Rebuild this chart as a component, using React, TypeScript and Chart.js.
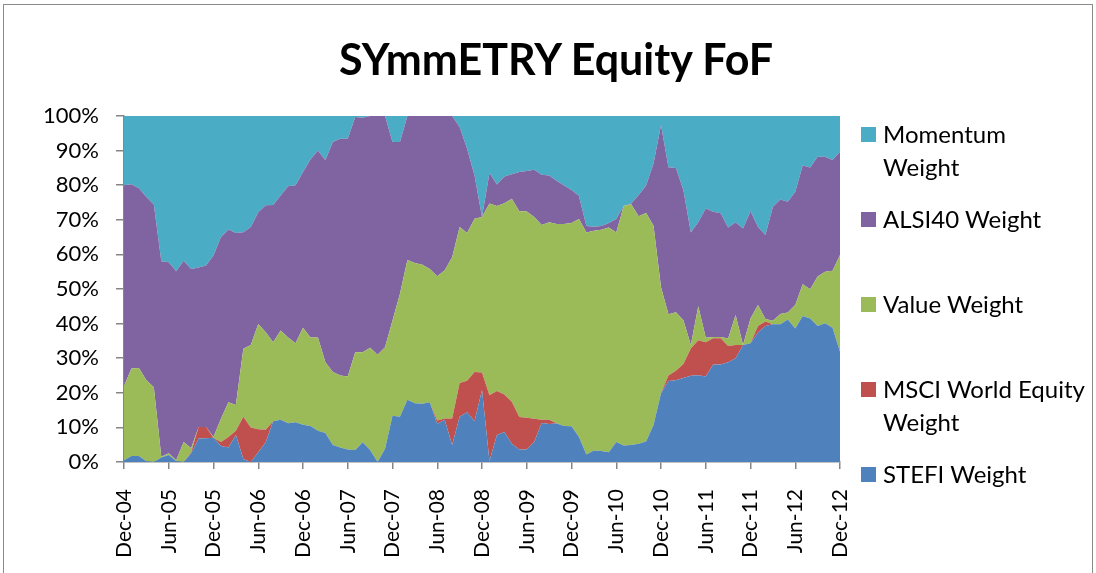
import React, { useEffect, useRef } from "react";
import { Chart, registerables } from "chart.js";

Chart.register(...registerables);

const monthNames = ["Jan", "Feb", "Mar", "Apr", "May", "Jun", "Jul", "Aug", "Sep", "Oct", "Nov", "Dec"];
// Monthly categories Dec-04 .. Dec-12
const categories: string[] = [];
for (let k = 0; k < 97; k++) {
  const m = (11 + k) % 12;
  const y = 4 + Math.floor((11 + k) / 12);
  categories.push(monthNames[m] + "-" + String(y).padStart(2, "0"));
}

const yTicks = [0, 10, 20, 30, 40, 50, 60, 70, 80, 90, 100];

const stefi = [0.5, 1.7, 1.7, 0.2, 0, 1.3, 2, 0.3, 0, 2.5,
  6.8, 6.9, 7, 4.6, 4.2, 7.8, 0.9, 0, 2.8, 5.7,
  11.8, 12.2, 11.2, 11.5, 10.8, 10.4, 9, 8.4, 4.9, 4.2,
  3.6, 3.5, 5.7, 3.5, 0, 3.8, 13.4, 13.1, 18, 17,
  16.8, 17.3, 11, 12.2, 4.9, 13.1, 14.4, 11.8, 20.8, 0.3,
  7.8, 8.7, 5.3, 3.6, 3.6, 5.8, 11.3, 11, 11.1, 10.4,
  10.3, 7.2, 2.2, 3.3, 3.2, 2.8, 5.8, 4.8, 4.9, 5.3,
  5.9, 10.7, 19.9, 23.4, 23.6, 24.3, 24.9, 25.1, 24.7, 28.2,
  28.2, 28.8, 30, 33.8, 34.3, 37.4, 39.3, 39.8, 39.8, 41.2,
  38.6, 42.2, 41.5, 39.3, 40.1, 38.8, 31.9];

const msci = [0, 0, 0, 0, 0, 0, 0, 0, 0, 0.3,
  3.3, 3.2, 0, 1.2, 3, 1.2, 12.2, 10, 6.7, 3.6,
  0, 0, 0, 0, 0, 0, 0, 0, 0, 0,
  0, 0, 0, 0, 0, 0, 0, 0, 0, 0,
  0, 0, 1, 0.4, 7.7, 9.7, 9.1, 14.2, 5.1, 19,
  12.7, 10.8, 12.1, 9.4, 9.2, 6.7, 0.9, 1.2, 0.1, 0,
  0, 0, 0, 0, 0, 0, 0, 0, 0, 0,
  0, 0, 0, 1.6, 2.8, 4, 7.9, 10.1, 9.9, 7.6,
  7.6, 4.7, 3.8, 0, 0, 1.9, 1.3, 0, 0, 0,
  0, 0, 0, 0, 0, 0, 0];

const valueW = [21.5, 25.3, 25.5, 23.4, 21.6, 0.2, 0.5, 0.2, 5.8, 1.2,
  0, 0, 0.2, 6.7, 10.1, 7.5, 19.6, 23.8, 30.4, 28.2,
  22.8, 25.8, 24.8, 22.8, 28, 25.6, 27, 20.4, 21.1, 20.8,
  21.1, 28.2, 26, 29.5, 31, 29.4, 27.5, 35.5, 40.4, 40.5,
  40.2, 38.5, 41.7, 42.8, 46.6, 45.1, 42.7, 44.3, 44.9, 55.4,
  53.5, 55.3, 58.7, 59.5, 59.6, 58.3, 56.3, 57.1, 57.6, 58.4,
  58.8, 63, 64.1, 63.5, 63.9, 65, 60.5, 69.2, 69.6, 65.7,
  66.1, 57.6, 30.6, 17.7, 16.9, 12.7, 1, 9.8, 1.3, 0.3,
  0.3, 2.2, 8.7, 0, 7.2, 6.1, 0.7, 1, 3, 2,
  6.8, 9.2, 8.4, 14.3, 14.9, 16.5, 27.9];

const alsi40 = [58, 53.3, 51.9, 53, 52.8, 56.5, 55.2, 54.6, 52.4, 51.8,
  46.1, 46.7, 52.5, 52.5, 49.9, 49.7, 33.7, 34.1, 32.3, 36.7,
  39.7, 39, 43.7, 45.7, 45, 51.4, 54, 58.4, 66.5, 68.4,
  68.7, 68, 67.8, 67, 69, 66.8, 51.6, 43.9, 41.6, 42.5,
  43, 44.2, 46.3, 44.6, 40.8, 28.9, 24.3, 12.5, 0, 8.8,
  6.2, 7.7, 7.1, 11.3, 11.7, 13.7, 14.5, 13.5, 12.5, 11.1,
  9.5, 6.7, 1.9, 1.2, 1.1, 1.3, 3.9, 0, 0.2, 6.2,
  7.9, 18, 46.9, 42.5, 41.7, 37.6, 32.5, 24.4, 37.4, 36.2,
  35.8, 32.1, 26.8, 33.7, 31, 22.6, 24.3, 33, 33.1, 32,
  32.7, 34.3, 35.2, 34.6, 33.2, 32, 29.9];

const momentum = [20, 19.7, 20.9, 23.4, 25.6, 42, 42.3, 44.9, 41.8, 44.2,
  43.8, 43.2, 40.3, 35, 32.8, 33.8, 33.6, 32.1, 27.8, 25.8,
  25.7, 23, 20.3, 20, 16.2, 12.6, 10, 12.8, 7.5, 6.6,
  6.6, 0.3, 0.5, 0, 0, 0, 7.5, 7.5, 0, 0,
  0, 0, 0, 0, 0, 3.2, 9.5, 17.2, 29.2, 16.5,
  19.8, 17.5, 16.8, 16.2, 15.9, 15.5, 17, 17.2, 18.7, 20.1,
  21.4, 23.1, 31.8, 32, 31.8, 30.9, 29.8, 26, 25.3, 22.8,
  20.1, 13.7, 2.6, 14.8, 15, 21.4, 33.7, 30.6, 26.7, 27.7,
  28.1, 32.2, 30.7, 32.5, 27.5, 32, 34.4, 26.2, 24.1, 24.8,
  21.9, 14.3, 14.9, 11.8, 11.8, 12.7, 10.3];

const seriesNames = ["STEFI Weight", "MSCI World Equity Weight", "Value Weight", "ALSI40 Weight", "Momentum Weight"];
const seriesColors = ["#4F81BD", "#C0504D", "#9BBB59", "#8064A2", "#4BACC6"];
const seriesData = [stefi, msci, valueW, alsi40, momentum];

const legendItems = [
  { lines: ["Momentum", "Weight"], color: "#4BACC6", cy: 134 },
  { lines: ["ALSI40 Weight"], color: "#8064A2", cy: 219 },
  { lines: ["Value Weight"], color: "#9BBB59", cy: 304 },
  { lines: ["MSCI World Equity", "Weight"], color: "#C0504D", cy: 389 },
  { lines: ["STEFI Weight"], color: "#4F81BD", cy: 474 },
];

const FONT = "Lato, 'Open Sans', sans-serif";
const AXIS = "#868686";

export default function App() {
  const ref = useRef<HTMLCanvasElement | null>(null);

  useEffect(() => {
    if (!ref.current) return;
    const chart = new Chart(ref.current, {
      type: "line",
      data: {
        labels: categories,
        datasets: seriesData.map((d, i) => ({
          label: seriesNames[i],
          data: d,
          backgroundColor: seriesColors[i],
          borderColor: seriesColors[i],
          borderWidth: 0,
          pointRadius: 0,
          tension: 0,
          fill: i === 0 ? "origin" : "-1",
        })),
      },
      options: {
        animation: false,
        responsive: false,
        devicePixelRatio: 1,
        layout: { padding: { top: 116, right: 256, left: 0, bottom: 0 } },
        plugins: { legend: { display: false }, title: { display: false }, tooltip: { enabled: false } },
        scales: {
          x: {
            type: "category",
            offset: false,
            grid: {
              display: true,
              drawOnChartArea: false,
              drawTicks: true,
              tickLength: 7,
              lineWidth: 1.5,
              color: (ctx: any) => (ctx.index % 6 === 0 ? AXIS : "rgba(0,0,0,0)"),
            },
            border: { display: true, color: AXIS, width: 1.5 },
            ticks: {
              autoSkip: false,
              minRotation: 90,
              maxRotation: 90,
              padding: 20,
              color: "#000",
              font: { family: FONT, size: 21 },
              callback: (_v: any, i: number) => (i % 6 === 0 ? categories[i] : ""),
            },
            afterFit: (s: any) => { s.height = 111; },
          },
          y: {
            stacked: true,
            min: 0,
            max: 100,
            grid: {
              display: true,
              drawOnChartArea: false,
              drawTicks: true,
              tickLength: 8,
              lineWidth: 1.5,
              color: AXIS,
            },
            border: { display: true, color: AXIS, width: 1.5 },
            afterBuildTicks: (s: any) => { s.ticks = yTicks.map((v) => ({ value: v })); },
            ticks: {
              padding: 17,
              color: "#000",
              font: { family: FONT, size: 22 },
              callback: (v: any) => v + "%",
            },
            afterFit: (s: any) => { s.width = 124; },
          },
        },
      },
    });
    return () => chart.destroy();
  }, []);

  return (
    <div style={{ position: "fixed", left: 0, top: 0, width: 1096, height: 573, overflow: "hidden", background: "#fff" }}>
      <div style={{ position: "absolute", left: 3, top: 4, width: 1088, height: 620, border: "1px solid #8a8a8a" }} />
      <canvas ref={ref} width={1096} height={573} style={{ position: "absolute", left: 0, top: 0, width: 1096, height: 573 }} />
      <div style={{ position: "absolute", left: 0, width: 1112, top: 34, textAlign: "center", fontFamily: FONT, fontWeight: 700, fontSize: 43, lineHeight: "50px", color: "#000" }}>
        SYmmETRY Equity FoF
      </div>
      {legendItems.map((it, k) => (
        <React.Fragment key={k}>
          <div style={{ position: "absolute", left: 861, top: it.cy - 7.5, width: 15, height: 15, background: it.color }} />
          <div style={{ position: "absolute", left: 883, top: it.cy - 17, fontFamily: FONT, fontSize: 24, lineHeight: "33px", color: "#000", whiteSpace: "nowrap" }}>
            {it.lines.map((l, j) => (<div key={j}>{l}</div>))}
          </div>
        </React.Fragment>
      ))}
    </div>
  );
}
